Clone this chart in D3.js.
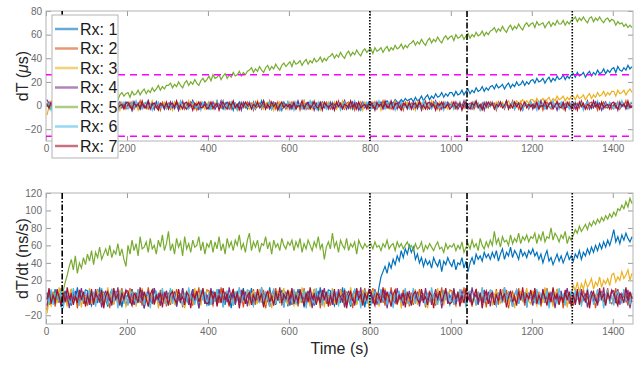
<!DOCTYPE html>
<html>
<head>
<meta charset="utf-8">
<script src="https://cdn.jsdelivr.net/npm/d3@7"></script>
<style>
  body { margin: 0; background: #fff; }
  svg { display: block; }
  text { font-family: 'Liberation Sans', Arial, sans-serif; }
</style>
</head>
<body>
<svg id="chart" width="642" height="367"></svg>
<script>
const receivers = ['Rx: 1', 'Rx: 2', 'Rx: 3', 'Rx: 4', 'Rx: 5', 'Rx: 6', 'Rx: 7'];
const colors = ['#0072BD', '#D95319', '#EDB120', '#7E2F8E', '#77AC30', '#4DBEEE', '#A2142F'];

// sample times (s), one sample every 5 s
const times = d3.range(2.5, 1450, 5);
const xTicks = [0, 200, 400, 600, 800, 1000, 1200, 1400];
const dashDotTimes = [40, 1040];
const dottedTimes = [800, 1300];
const thresholds = [26, -26];

// dT (us), one row = 100 s
const dtRx1 = [
  2,-3,1,-1,3,-2,0,4,-3,1,-2,3,-1,2,-4,0,3,-2,1,-1,
  3,-1,-3,2,0,1,-2,4,-2,0,3,-3,1,2,-1,-4,2,1,-2,3,
  0,2,-4,3,-1,2,-3,1,0,-2,4,-1,2,-3,3,-2,0,1,-3,2,
  -1,3,-2,0,2,-4,1,3,-1,-3,2,0,4,-2,1,-3,2,-1,3,0,
  -3,1,2,-2,4,-1,0,-3,2,3,-1,1,-4,2,0,3,-2,-1,1,-3,
  1,-2,3,-3,0,-1,4,-2,1,2,-3,0,3,-1,-2,2,-4,3,0,-1,
  2,-3,1,-1,3,-2,0,4,-3,1,-2,3,-1,2,-4,0,3,-2,1,-1,
  3,-1,-3,2,0,1,-2,4,-2,0,3,-3,1,2,-1,-4,2,1,-2,3,
  1,-2,2,-1,1,3,0,2,4,1,3,2,5,3,2,5,3,6,4,5,
  6,3,7,4,5,8,4,7,9,5,8,6,10,7,8,11,7,10,8,11,
  11,8,12,9,10,13,9,12,14,10,13,11,15,12,13,16,12,15,13,16,
  17,14,18,15,16,18,14,17,19,15,18,16,20,17,18,21,17,20,18,21,
  22,19,23,20,21,23,19,22,24,20,23,21,25,22,23,26,22,25,23,26,
  27,24,28,25,26,28,24,27,29,25,28,26,30,27,28,31,27,30,28,31,
  32,28,33,30,29,32,30,34,31,33];
const dtRx2 = [
  -1,3,-2,0,2,-4,1,3,-1,-3,2,0,4,-2,1,-3,2,-1,3,0,
  -3,1,2,-2,4,-1,0,-3,2,3,-1,1,-4,2,0,3,-2,-1,1,-3,
  1,-2,3,-3,0,-1,4,-2,1,2,-3,0,3,-1,-2,2,-4,3,0,-1,
  2,-3,1,-1,3,-2,0,4,-3,1,-2,3,-1,2,-4,0,3,-2,1,-1,
  3,-1,-3,2,0,1,-2,4,-2,0,3,-3,1,2,-1,-4,2,1,-2,3,
  0,2,-4,3,-1,2,-3,1,0,-2,4,-1,2,-3,3,-2,0,1,-3,2,
  -1,3,-2,0,2,-4,1,3,-1,-3,2,0,4,-2,1,-3,2,-1,3,0,
  -3,1,2,-2,4,-1,0,-3,2,3,-1,1,-4,2,0,3,-2,-1,1,-3,
  1,-2,3,-3,0,-1,4,-2,1,2,-3,0,3,-1,-2,2,-4,3,0,-1,
  2,-3,1,-1,3,-2,0,4,-3,1,-2,3,-1,2,-4,0,3,-2,1,-1,
  3,-1,-3,2,0,1,-2,4,-2,0,3,-3,1,2,-1,-4,2,1,-2,3,
  0,2,-4,3,-1,2,-3,1,0,-2,4,-1,2,-3,3,-2,0,1,-3,2,
  -1,3,-2,0,2,-4,1,3,-1,-3,2,0,4,-2,1,-3,2,-1,3,0,
  -3,1,2,-2,4,-1,0,-3,2,3,-1,1,-4,2,0,3,-2,-1,1,-3,
  1,-2,3,-3,0,-1,4,-2,1,2];
const dtRx3 = [
  -8,-1,-3,2,0,1,-2,4,-2,0,3,-3,1,2,-1,-4,2,1,-2,3,
  1,-2,3,-3,0,-1,4,-2,1,2,-3,0,3,-1,-2,2,-4,3,0,-1,
  -1,3,-2,0,2,-4,1,3,-1,-3,2,0,4,-2,1,-3,2,-1,3,0,
  0,2,-4,3,-1,2,-3,1,0,-2,4,-1,2,-3,3,-2,0,1,-3,2,
  2,-3,1,-1,3,-2,0,4,-3,1,-2,3,-1,2,-4,0,3,-2,1,-1,
  -3,1,2,-2,4,-1,0,-3,2,3,-1,1,-4,2,0,3,-2,-1,1,-3,
  3,-1,-3,2,0,1,-2,4,-2,0,3,-3,1,2,-1,-4,2,1,-2,3,
  1,-2,3,-3,0,-1,4,-2,1,2,-3,0,3,-1,-2,2,-4,3,0,-1,
  -1,3,-2,0,2,-4,1,3,-1,-3,2,0,4,-2,1,-3,2,-1,3,0,
  0,2,-4,3,-1,2,-3,1,0,-2,4,-1,2,-3,3,-2,0,1,-3,2,
  2,-3,1,-1,3,-2,0,4,-3,1,-2,3,-1,2,-4,0,3,-2,1,-1,
  2,-1,3,0,1,3,-1,2,4,0,3,1,4,2,3,5,1,4,2,5,
  5,2,6,3,4,6,2,5,7,3,6,4,8,5,6,8,4,7,5,8,
  8,5,9,6,7,9,5,8,10,6,9,7,11,8,9,12,8,11,9,12,
  12,8,13,10,11,13,9,12,14,11];
const dtRx4 = [
  5,1,2,-2,4,-1,0,-3,2,3,-1,1,-4,2,0,3,-2,-1,1,-3,
  2,-3,1,-1,3,-2,0,4,-3,1,-2,3,-1,2,-4,0,3,-2,1,-1,
  0,2,-4,3,-1,2,-3,1,0,-2,4,-1,2,-3,3,-2,0,1,-3,2,
  -1,3,-2,0,2,-4,1,3,-1,-3,2,0,4,-2,1,-3,2,-1,3,0,
  1,-2,3,-3,0,-1,4,-2,1,2,-3,0,3,-1,-2,2,-4,3,0,-1,
  3,-1,-3,2,0,1,-2,4,-2,0,3,-3,1,2,-1,-4,2,1,-2,3,
  -3,1,2,-2,4,-1,0,-3,2,3,-1,1,-4,2,0,3,-2,-1,1,-3,
  2,-3,1,-1,3,-2,0,4,-3,1,-2,3,-1,2,-4,0,3,-2,1,-1,
  0,2,-4,3,-1,2,-3,1,0,-2,4,-1,2,-3,3,-2,0,1,-3,2,
  -1,3,-2,0,2,-4,1,3,-1,-3,2,0,4,-2,1,-3,2,-1,3,0,
  1,-2,3,-3,0,-1,4,-2,1,2,-3,0,3,-1,-2,2,-4,3,0,-1,
  3,-1,-3,2,0,1,-2,4,-2,0,3,-3,1,2,-1,-4,2,1,-2,3,
  -3,1,2,-2,4,-1,0,-3,2,3,-1,1,-4,2,0,3,-2,-1,1,-3,
  2,-3,1,-1,3,-2,0,4,-3,1,-2,3,-1,2,-4,0,3,-2,1,-1,
  0,2,-4,3,-1,2,-3,1,0,-2];
const dtRx5 = [
  1,-2,2,-1,0,2,-1,1,2,0,3,1,4,1,3,5,2,4,6,3,
  5,7,3,6,4,8,5,3,7,9,5,8,6,10,7,5,9,11,8,10,
  11,7,12,9,10,13,9,12,14,10,13,11,15,12,14,17,13,16,14,17,
  17,19,15,18,16,20,17,15,19,21,17,20,18,22,19,17,21,23,20,22,
  25,21,26,23,24,26,22,25,27,23,26,24,28,25,26,29,25,28,26,29,
  30,32,28,31,29,33,30,28,32,34,30,33,31,35,32,30,34,36,33,35,
  37,33,38,35,36,38,34,37,39,35,38,36,40,37,38,41,37,40,38,41,
  42,44,40,43,41,45,42,40,44,46,42,45,43,47,44,42,46,48,45,47,
  48,44,49,46,47,49,45,48,50,46,49,47,51,48,49,52,48,51,49,52,
  53,55,51,54,52,56,53,51,55,57,53,56,54,58,55,53,57,59,56,58,
  59,55,60,57,58,60,56,59,61,57,60,58,62,59,60,63,59,62,60,63,
  64,66,62,65,63,67,64,62,66,68,64,67,65,69,66,64,68,70,67,69,
  70,66,71,68,69,70,66,69,71,67,70,68,72,69,69,72,68,71,69,72,
  73,75,71,74,72,75,72,70,74,75,71,74,72,75,72,70,73,74,71,73,
  72,68,71,69,70,67,69,66,68,66];
const dtRx6 = [
  0,2,-4,3,-1,2,-3,1,0,-2,4,-1,2,-3,3,-2,0,1,-3,2,
  -1,3,-2,0,2,-4,1,3,-1,-3,2,0,4,-2,1,-3,2,-1,3,0,
  -3,1,2,-2,4,-1,0,-3,2,3,-1,1,-4,2,0,3,-2,-1,1,-3,
  1,-2,3,-3,0,-1,4,-2,1,2,-3,0,3,-1,-2,2,-4,3,0,-1,
  2,-3,1,-1,3,-2,0,4,-3,1,-2,3,-1,2,-4,0,3,-2,1,-1,
  3,-1,-3,2,0,1,-2,4,-2,0,3,-3,1,2,-1,-4,2,1,-2,3,
  0,2,-4,3,-1,2,-3,1,0,-2,4,-1,2,-3,3,-2,0,1,-3,2,
  -1,3,-2,0,2,-4,1,3,-1,-3,2,0,4,-2,1,-3,2,-1,3,0,
  -3,1,2,-2,4,-1,0,-3,2,3,-1,1,-4,2,0,3,-2,-1,1,-3,
  1,-2,3,-3,0,-1,4,-2,1,2,-3,0,3,-1,-2,2,-4,3,0,-1,
  2,-3,1,-1,3,-2,0,4,-3,1,-2,3,-1,2,-4,0,3,-2,1,-1,
  3,-1,-3,2,0,1,-2,4,-2,0,3,-3,1,2,-1,-4,2,1,-2,3,
  0,2,-4,3,-1,2,-3,1,0,-2,4,-1,2,-3,3,-2,0,1,-3,2,
  -1,3,-2,0,2,-4,1,3,-1,-3,2,0,4,-2,1,-3,2,-1,3,0,
  -3,1,2,-2,4,-1,0,-3,2,3];
const dtRx7 = [
  1,-2,3,-3,0,-1,4,-2,1,2,-3,0,3,-1,-2,2,-4,3,0,-1,
  0,2,-4,3,-1,2,-3,1,0,-2,4,-1,2,-3,3,-2,0,1,-3,2,
  3,-1,-3,2,0,1,-2,4,-2,0,3,-3,1,2,-1,-4,2,1,-2,3,
  -3,1,2,-2,4,-1,0,-3,2,3,-1,1,-4,2,0,3,-2,-1,1,-3,
  -1,3,-2,0,2,-4,1,3,-1,-3,2,0,4,-2,1,-3,2,-1,3,0,
  2,-3,1,-1,3,-2,0,4,-3,1,-2,3,-1,2,-4,0,3,-2,1,-1,
  1,-2,3,-3,0,-1,4,-2,1,2,-3,0,3,-1,-2,2,-4,3,0,-1,
  0,2,-4,3,-1,2,-3,1,0,-2,4,-1,2,-3,3,-2,0,1,-3,2,
  3,-1,-3,2,0,1,-2,4,-2,0,3,-3,1,2,-1,-4,2,1,-2,3,
  -3,1,2,-2,4,-1,0,-3,2,3,-1,1,-4,2,0,3,-2,-1,1,-3,
  -1,3,-2,0,2,-4,1,3,-1,-3,2,0,4,-2,1,-3,2,-1,3,0,
  2,-3,1,-1,3,-2,0,4,-3,1,-2,3,-1,2,-4,0,3,-2,1,-1,
  1,-2,3,-3,0,-1,4,-2,1,2,-3,0,3,-1,-2,2,-4,3,0,-1,
  0,2,-4,3,-1,2,-3,1,0,-2,4,-1,2,-3,3,-2,0,1,-3,2,
  3,-1,-3,2,0,1,-2,4,-2,0];

// dT/dt (ns/s), one row = 100 s
const rateRx1 = [
  6,-8,3,-4,10,-2,5,-11,1,8,-5,2,-9,7,-3,12,-6,4,-1,9,
  8,-3,-9,5,2,-6,12,-4,7,-1,-10,4,9,-7,3,-2,6,-11,5,1,
  3,-6,10,-8,5,1,-4,9,-12,2,7,-3,-6,11,-1,4,-9,6,-2,8,
  -5,9,-2,7,-10,3,-6,11,-3,5,-8,1,10,-4,6,-12,2,8,-7,3,
  -9,4,7,-2,-6,10,-3,1,-8,6,3,-12,5,-1,8,-5,2,11,-4,-7,
  -2,11,-7,3,-4,8,1,-9,6,-5,12,-1,4,-8,2,-6,9,-3,7,-10,
  6,-8,3,-4,10,-2,5,-11,1,8,-5,2,-9,7,-3,12,-6,4,-1,9,
  8,-3,-9,5,2,-6,12,-4,7,-1,-10,4,9,-7,3,-2,6,-11,5,1,
  3,-5,2,-4,12,24,30,36,28,40,34,44,38,48,42,54,46,56,50,60,
  52,58,44,50,40,46,36,44,38,42,34,46,40,36,44,30,42,38,46,40,
  36,44,32,40,38,46,34,42,30,40,46,38,50,44,48,42,52,46,50,44,
  52,46,54,42,50,56,44,52,48,58,46,54,50,44,56,48,52,46,54,50,
  56,48,52,44,50,40,48,54,42,46,38,44,50,42,48,40,46,52,44,48,
  42,50,46,54,44,52,48,56,50,58,52,60,54,62,56,64,58,66,60,68,
  78,64,70,62,72,66,74,68,64,70];
const rateRx2 = [
  -14,9,-2,7,-10,3,-6,11,-3,5,-8,1,10,-4,6,-12,2,8,-7,3,
  -9,4,7,-2,-6,10,-3,1,-8,6,3,-12,5,-1,8,-5,2,11,-4,-7,
  -2,11,-7,3,-4,8,1,-9,6,-5,12,-1,4,-8,2,-6,9,-3,7,-10,
  6,-8,3,-4,10,-2,5,-11,1,8,-5,2,-9,7,-3,12,-6,4,-1,9,
  8,-3,-9,5,2,-6,12,-4,7,-1,-10,4,9,-7,3,-2,6,-11,5,1,
  3,-6,10,-8,5,1,-4,9,-12,2,7,-3,-6,11,-1,4,-9,6,-2,8,
  -5,9,-2,7,-10,3,-6,11,-3,5,-8,1,10,-4,6,-12,2,8,-7,3,
  -9,4,7,-2,-6,10,-3,1,-8,6,3,-12,5,-1,8,-5,2,11,-4,-7,
  -2,11,-7,3,-4,8,1,-9,6,-5,12,-1,4,-8,2,-6,9,-3,7,-10,
  6,-8,3,-4,10,-2,5,-11,1,8,-5,2,-9,7,-3,12,-6,4,-1,9,
  8,-3,-9,5,2,-6,12,-4,7,-1,-10,4,9,-7,3,-2,6,-11,5,1,
  3,-6,10,-8,5,1,-4,9,-12,2,7,-3,-6,11,-1,4,-9,6,-2,8,
  -5,9,-2,7,-10,3,-6,11,-3,5,-8,1,10,-4,6,-12,2,8,-7,3,
  -9,4,7,-2,-6,10,-3,1,-8,6,3,-12,5,-1,8,-5,2,11,-4,-7,
  -2,11,-7,3,-4,8,1,-9,6,-5];
const rateRx3 = [
  -18,-3,-9,5,2,-6,12,-4,7,-1,-10,4,9,-7,3,-2,6,-11,5,1,
  -2,11,-7,3,-4,8,1,-9,6,-5,12,-1,4,-8,2,-6,9,-3,7,-10,
  -5,9,-2,7,-10,3,-6,11,-3,5,-8,1,10,-4,6,-12,2,8,-7,3,
  3,-6,10,-8,5,1,-4,9,-12,2,7,-3,-6,11,-1,4,-9,6,-2,8,
  6,-8,3,-4,10,-2,5,-11,1,8,-5,2,-9,7,-3,12,-6,4,-1,9,
  -9,4,7,-2,-6,10,-3,1,-8,6,3,-12,5,-1,8,-5,2,11,-4,-7,
  8,-3,-9,5,2,-6,12,-4,7,-1,-10,4,9,-7,3,-2,6,-11,5,1,
  -2,11,-7,3,-4,8,1,-9,6,-5,12,-1,4,-8,2,-6,9,-3,7,-10,
  -5,9,-2,7,-10,3,-6,11,-3,5,-8,1,10,-4,6,-12,2,8,-7,3,
  3,-6,10,-8,5,1,-4,9,-12,2,7,-3,-6,11,-1,4,-9,6,-2,8,
  6,-8,3,-4,10,-2,5,-11,1,8,-5,2,-9,7,-3,12,-6,4,-1,9,
  -9,4,7,-2,-6,10,-3,1,-8,6,3,-12,5,-1,8,-5,2,11,-4,-7,
  8,-3,-9,5,2,-6,12,-4,7,-1,-10,4,9,-7,3,-2,6,-11,5,1,
  14,8,18,6,16,10,20,12,16,22,10,18,14,24,12,20,16,22,14,26,
  28,18,24,20,30,22,26,32,20,28];
const rateRx4 = [
  -9,4,7,-2,-6,10,-3,1,-8,6,3,-12,5,-1,8,-5,2,11,-4,-7,
  6,-8,3,-4,10,-2,5,-11,1,8,-5,2,-9,7,-3,12,-6,4,-1,9,
  3,-6,10,-8,5,1,-4,9,-12,2,7,-3,-6,11,-1,4,-9,6,-2,8,
  -5,9,-2,7,-10,3,-6,11,-3,5,-8,1,10,-4,6,-12,2,8,-7,3,
  -2,11,-7,3,-4,8,1,-9,6,-5,12,-1,4,-8,2,-6,9,-3,7,-10,
  8,-3,-9,5,2,-6,12,-4,7,-1,-10,4,9,-7,3,-2,6,-11,5,1,
  -9,4,7,-2,-6,10,-3,1,-8,6,3,-12,5,-1,8,-5,2,11,-4,-7,
  6,-8,3,-4,10,-2,5,-11,1,8,-5,2,-9,7,-3,12,-6,4,-1,9,
  3,-6,10,-8,5,1,-4,9,-12,2,7,-3,-6,11,-1,4,-9,6,-2,8,
  -5,9,-2,7,-10,3,-6,11,-3,5,-8,1,10,-4,6,-12,2,8,-7,3,
  -2,11,-7,3,-4,8,1,-9,6,-5,12,-1,4,-8,2,-6,9,-3,7,-10,
  8,-3,-9,5,2,-6,12,-4,7,-1,-10,4,9,-7,3,-2,6,-11,5,1,
  -9,4,7,-2,-6,10,-3,1,-8,6,3,-12,5,-1,8,-5,2,11,-4,-7,
  6,-8,3,-4,10,-2,5,-11,1,8,-5,2,-9,7,-3,12,-6,4,-1,9,
  3,-6,10,-8,5,1,-4,9,-12,2];
const rateRx5 = [
  2,-5,4,-3,6,-2,3,-4,8,18,26,36,44,32,48,28,40,34,46,38,
  50,42,54,38,52,46,58,44,50,56,48,60,46,54,50,62,48,56,44,36,
  60,50,66,54,62,48,70,56,58,64,52,68,56,60,50,66,58,72,54,62,
  76,54,62,50,68,58,64,48,70,56,62,52,66,58,60,70,54,64,50,62,
  58,66,52,64,56,70,54,62,50,68,58,64,54,66,60,72,56,62,52,66,
  74,54,64,58,66,52,62,60,70,56,64,50,66,58,62,54,68,60,56,64,
  60,66,54,64,58,68,52,62,56,66,60,54,64,58,70,56,62,44,58,64,
  56,74,58,64,52,66,60,56,68,54,62,58,64,50,66,60,56,62,58,60,
  62,56,64,58,60,54,62,58,66,56,60,62,54,64,58,62,56,60,64,58,
  60,54,62,56,58,64,52,60,56,62,58,54,60,64,56,58,52,62,56,60,
  58,62,54,60,56,64,52,58,62,56,66,58,62,54,68,60,56,64,58,66,
  60,76,62,68,58,70,64,66,60,72,62,68,64,74,62,70,66,72,64,70,
  68,74,62,72,66,76,64,70,68,80,66,74,70,64,72,68,76,62,70,66,
  72,78,74,82,76,80,84,78,86,82,88,84,90,86,92,88,94,90,96,92,
  98,94,102,100,106,102,110,104,114,108];
const rateRx6 = [
  3,-6,10,-8,5,1,-4,9,-12,2,7,-3,-6,11,-1,4,-9,6,-2,8,
  -5,9,-2,7,-10,3,-6,11,-3,5,-8,1,10,-4,6,-12,2,8,-7,3,
  -9,4,7,-2,-6,10,-3,1,-8,6,3,-12,5,-1,8,-5,2,11,-4,-7,
  -2,11,-7,3,-4,8,1,-9,6,-5,12,-1,4,-8,2,-6,9,-3,7,-10,
  6,-8,3,-4,10,-2,5,-11,1,8,-5,2,-9,7,-3,12,-6,4,-1,9,
  8,-3,-9,5,2,-6,12,-4,7,-1,-10,4,9,-7,3,-2,6,-11,5,1,
  3,-6,10,-8,5,1,-4,9,-12,2,7,-3,-6,11,-1,4,-9,6,-2,8,
  -5,9,-2,7,-10,3,-6,11,-3,5,-8,1,10,-4,6,-12,2,8,-7,3,
  -9,4,7,-2,-6,10,-3,1,-8,6,3,-12,5,-1,8,-5,2,11,-4,-7,
  -2,11,-7,3,-4,8,1,-9,6,-5,12,-1,4,-8,2,-6,9,-3,7,-10,
  6,-8,3,-4,10,-2,5,-11,1,8,-5,2,-9,7,-3,12,-6,4,-1,9,
  8,-3,-9,5,2,-6,12,-4,7,-1,-10,4,9,-7,3,-2,6,-11,5,1,
  3,-6,10,-8,5,1,-4,9,-12,2,7,-3,-6,11,-1,4,-9,6,-2,8,
  -5,9,-2,7,-10,3,-6,11,-3,5,-8,1,10,-4,6,-12,2,8,-7,3,
  -9,4,7,-2,-6,10,-3,1,-8,6];
const rateRx7 = [
  -2,11,-7,3,-4,8,1,-9,6,-5,12,-1,4,-8,2,-6,9,-3,7,-10,
  3,-6,10,-8,5,1,-4,9,-12,2,7,-3,-6,11,-1,4,-9,6,-2,8,
  8,-3,-9,5,2,-6,12,-4,7,-1,-10,4,9,-7,3,-2,6,-11,5,1,
  -9,4,7,-2,-6,10,-3,1,-8,6,3,-12,5,-1,8,-5,2,11,-4,-7,
  -5,9,-2,7,-10,3,-6,11,-3,5,-8,1,10,-4,6,-12,2,8,-7,3,
  6,-8,3,-4,10,-2,5,-11,1,8,-5,2,-9,7,-3,12,-6,4,-1,9,
  -2,11,-7,3,-4,8,1,-9,6,-5,12,-1,4,-8,2,-6,9,-3,7,-10,
  3,-6,10,-8,5,1,-4,9,-12,2,7,-3,-6,11,-1,4,-9,6,-2,8,
  8,-3,-9,5,2,-6,12,-4,7,-1,-10,4,9,-7,3,-2,6,-11,5,1,
  -9,4,7,-2,-6,10,-3,1,-8,6,3,-12,5,-1,8,-5,2,11,-4,-7,
  -5,9,-2,7,-10,3,-6,11,-3,5,-8,1,10,-4,6,-12,2,8,-7,3,
  6,-8,3,-4,10,-2,5,-11,1,8,-5,2,-9,7,-3,12,-6,4,-1,9,
  -2,11,-7,3,-4,8,1,-9,6,-5,12,-1,4,-8,2,-6,9,-3,7,-10,
  3,-6,10,-8,5,1,-4,9,-12,2,7,-3,-6,11,-1,4,-9,6,-2,8,
  8,-3,-9,5,2,-6,12,-4,7,-1];

const dtSeries = [dtRx1, dtRx2, dtRx3, dtRx4, dtRx5, dtRx6, dtRx7];
const rateSeries = [rateRx1, rateRx2, rateRx3, rateRx4, rateRx5, rateRx6, rateRx7];

const svg = d3.select('#chart'),
  margin = { left: 46, right: 9 },
  width = +svg.attr('width');

const x = d3.scaleLinear().domain([0, 1450]).range([margin.left, width - margin.right]);

const panels = [
  { top: 11, bottom: 141, domain: [-30, 80], ticks: [-20, 0, 20, 40, 60, 80], series: dtSeries, label: 'dT', unit: 'μs', thresholds: true, legend: true },
  { top: 193, bottom: 324, domain: [-30, 120], ticks: [-20, 0, 20, 40, 60, 80, 100, 120], series: rateSeries, label: 'dT/dt', unit: 'ns/s' }
];

const styleAxis = a => a.call(s => s.select('.domain').remove())
  .call(s => s.selectAll('line').attr('stroke', '#9a9a9a'))
  .call(s => s.selectAll('text').attr('fill', '#6a6a6a').attr('font-size', 10));

panels.forEach((p, pi) => {
  const y = d3.scaleLinear().domain(p.domain).range([p.bottom, p.top]);
  const g = svg.append('g');

  const clipId = 'clip' + pi;
  svg.append('clipPath').attr('id', clipId)
    .append('rect')
    .attr('x', x.range()[0]).attr('y', p.top)
    .attr('width', x.range()[1] - x.range()[0]).attr('height', p.bottom - p.top);

  // axes, ticks inside on all four sides
  g.append('g').attr('transform', `translate(0,${p.bottom})`)
    .call(d3.axisBottom(x).tickValues(xTicks).tickFormat(d3.format('d')).tickSizeInner(-5).tickSizeOuter(0).tickPadding(4))
    .call(styleAxis);
  g.append('g').attr('transform', `translate(0,${p.top})`)
    .call(d3.axisTop(x).tickValues(xTicks).tickSizeInner(-5).tickSizeOuter(0).tickFormat(''))
    .call(styleAxis);
  g.append('g').attr('transform', `translate(${margin.left},0)`)
    .call(d3.axisLeft(y).tickValues(p.ticks).tickFormat(d3.format('d')).tickSizeInner(-5).tickSizeOuter(0).tickPadding(4))
    .call(styleAxis);
  g.append('g').attr('transform', `translate(${width - margin.right},0)`)
    .call(d3.axisRight(y).tickValues(p.ticks).tickSizeInner(-5).tickSizeOuter(0).tickFormat(''))
    .call(styleAxis);

  g.append('rect')
    .attr('x', x.range()[0]).attr('y', p.top)
    .attr('width', x.range()[1] - x.range()[0]).attr('height', p.bottom - p.top)
    .attr('fill', 'none').attr('stroke', '#b4b4b4');

  // data lines
  const line = d3.line().x((d, i) => x(times[i])).y(d => y(d));
  g.append('g').attr('clip-path', `url(#${clipId})`)
    .selectAll('path')
    .data(p.series)
    .enter()
    .append('path')
    .attr('d', line)
    .attr('fill', 'none')
    .attr('stroke', (d, i) => colors[i])
    .attr('stroke-width', 1.2);

  // event markers
  g.selectAll('.dashdot').data(dashDotTimes).enter().append('line')
    .attr('x1', d => x(d)).attr('x2', d => x(d))
    .attr('y1', p.top).attr('y2', p.bottom)
    .attr('stroke', '#000').attr('stroke-width', 1.6)
    .attr('stroke-dasharray', '6,2,1.5,2');
  g.selectAll('.dotted').data(dottedTimes).enter().append('line')
    .attr('x1', d => x(d)).attr('x2', d => x(d))
    .attr('y1', p.top).attr('y2', p.bottom)
    .attr('stroke', '#000').attr('stroke-width', 1.6)
    .attr('stroke-dasharray', '1.5,1.5');

  if (p.thresholds) {
    g.selectAll('.thr').data(thresholds).enter().append('line')
      .attr('x1', x(0)).attr('x2', x(1450))
      .attr('y1', d => y(d)).attr('y2', d => y(d))
      .attr('stroke', '#FF00FF').attr('stroke-width', 1.5)
      .attr('stroke-dasharray', '7,5');
  }

  // y label
  const yl = g.append('text')
    .attr('transform', `translate(28,${(p.top + p.bottom) / 2}) rotate(-90)`)
    .attr('text-anchor', 'middle')
    .attr('font-size', 16)
    .attr('fill', '#262626');
  yl.append('tspan').text(p.label + ' (');
  if (p.unit === 'μs') {
    yl.append('tspan').attr('font-style', 'italic').text('μ');
    yl.append('tspan').text('s)');
  } else {
    yl.append('tspan').text(p.unit + ')');
  }

  if (p.legend) {
    const lg = svg.append('g').attr('transform', 'translate(52,15)');
    lg.append('rect').attr('width', 66).attr('height', 143)
      .attr('fill', '#fff').attr('stroke', '#b4b4b4');
    const item = lg.selectAll('g').data(receivers).enter().append('g')
      .attr('transform', (d, i) => `translate(0,${14 + i * 19.5})`);
    item.append('line')
      .attr('x1', 3).attr('x2', 26)
      .attr('stroke', (d, i) => colors[i])
      .attr('stroke-width', 2.5)
      .attr('stroke-opacity', 0.6);
    item.append('text')
      .attr('x', 28).attr('dy', '0.35em')
      .attr('font-size', 16)
      .attr('fill', '#1a1a1a')
      .text(d => d);
  }
});

svg.append('text')
  .attr('x', x(725)).attr('y', 354)
  .attr('text-anchor', 'middle')
  .attr('font-size', 16)
  .attr('fill', '#262626')
  .text('Time (s)');
</script>
</body>
</html>
